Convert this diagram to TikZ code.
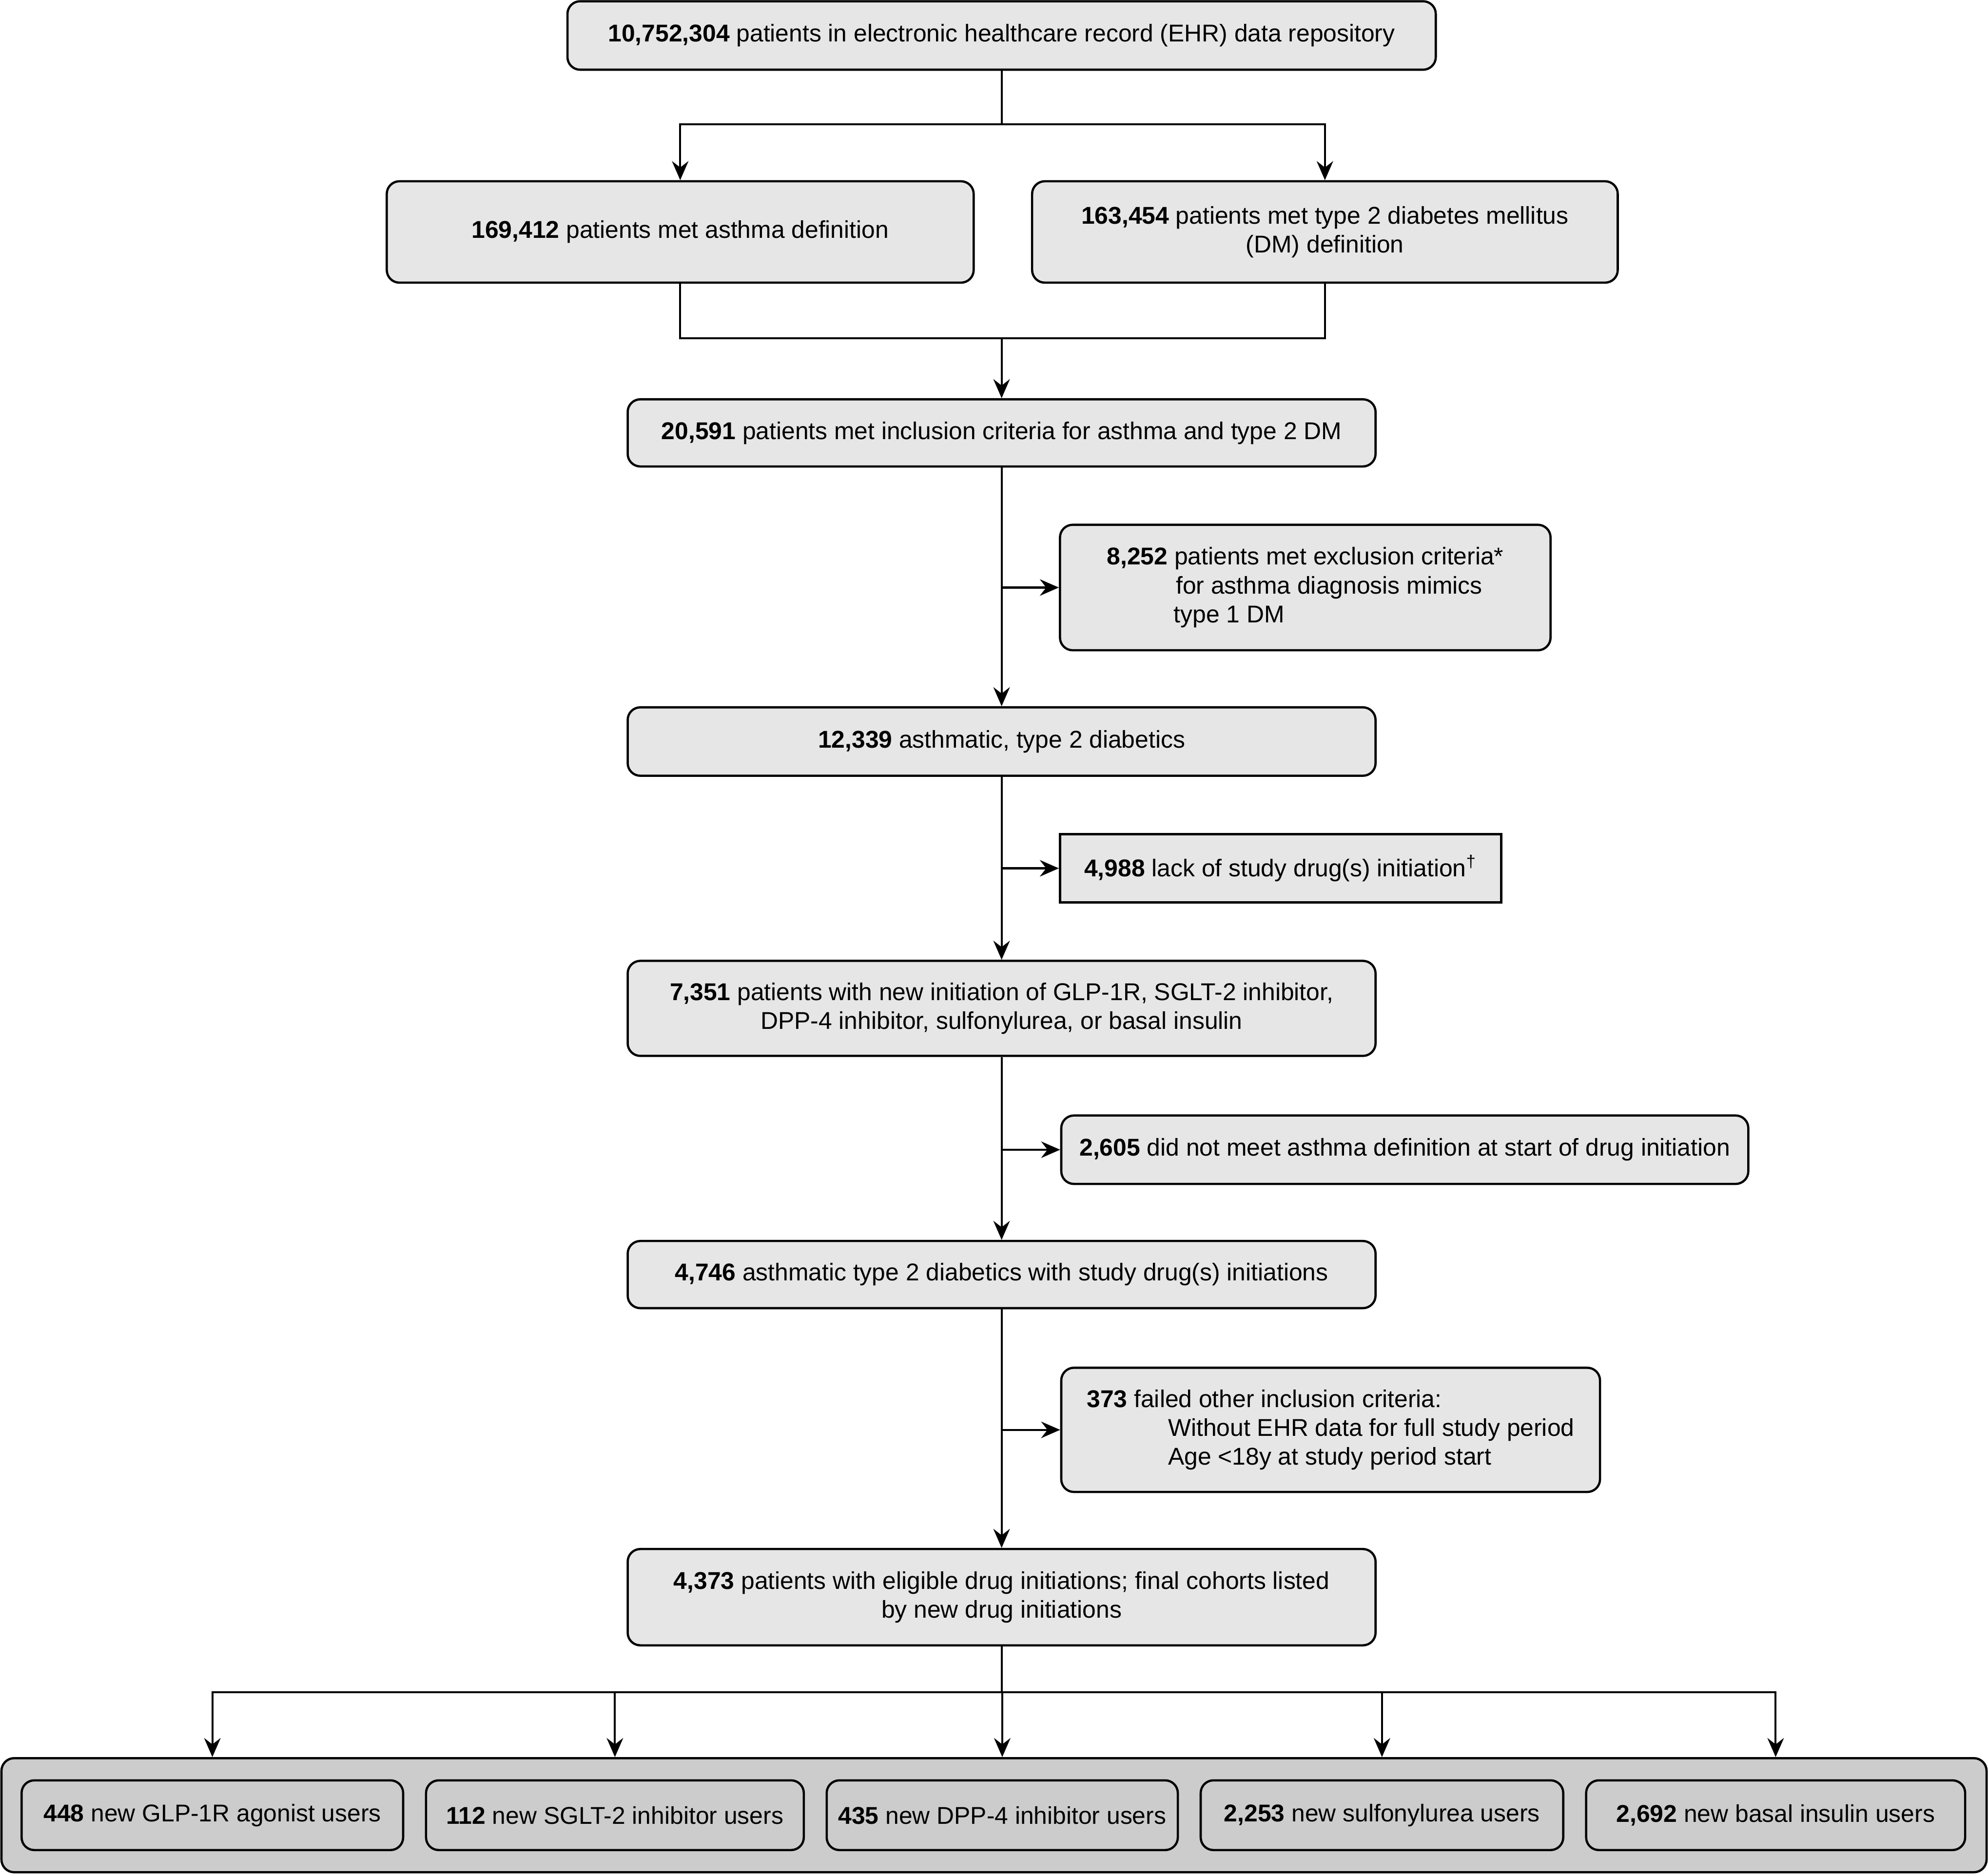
\documentclass[tikz,border=0pt]{standalone}
\usepackage{fontspec}
\setmainfont{Liberation Sans}
\usetikzlibrary{calc,arrows.meta}

\definecolor{boxgray}{HTML}{E6E6E6}
\definecolor{cohortgray}{HTML}{CCCCCC}

\tikzset{
  box/.style={draw, rounded corners=0.2cm, fill=boxgray, line width=1pt,
    align=center, inner sep=0pt, font=\fontsize{10.9}{13}\selectfont},
  sqbox/.style={box, rounded corners=0pt},
  cohort/.style={box, fill=cohortgray},
  link/.style={line width=0.9pt},
  arr/.style={link, -{Stealth[length=0.3cm,width=0.26cm,inset=0.1cm]}},
}

\begin{document}
\begin{tikzpicture}[x=0.02cm, y=-0.02cm]
  \useasboundingbox (0,0) rectangle (1568,1479);

  %% main column
  \node[box, minimum width=13.7cm, minimum height=1.08cm] (ehr) at (790,28)
    {\textbf{10,752,304} patients in electronic healthcare record (EHR) data repository};
  \node[box, minimum width=9.26cm, minimum height=1.6cm] (asthma) at (536.5,183)
    {\textbf{169,412} patients met asthma definition};
  \node[box, minimum width=9.24cm, minimum height=1.6cm] (dm) at (1045,183)
    {\textbf{163,454} patients met type 2 diabetes mellitus\\(DM) definition};
  \node[box, minimum width=11.8cm, minimum height=1.06cm] (incl) at (790,341.5)
    {\textbf{20,591} patients met inclusion criteria for asthma and type 2 DM};
  \node[box, minimum width=11.8cm, minimum height=1.08cm] (dx) at (790,585)
    {\textbf{12,339} asthmatic, type 2 diabetics};
  \node[box, minimum width=11.8cm, minimum height=1.5cm] (new) at (790,795.5)
    {\textbf{7,351} patients with new initiation of GLP-1R, SGLT-2 inhibitor,\\DPP-4 inhibitor, sulfonylurea, or basal insulin};
  \node[box, minimum width=11.8cm, minimum height=1.06cm] (drug) at (790,1005.5)
    {\textbf{4,746} asthmatic type 2 diabetics with study drug(s) initiations};
  \node[box, minimum width=11.8cm, minimum height=1.52cm] (final) at (790,1260)
    {\textbf{4,373} patients with eligible drug initiations; final cohorts listed\\by new drug initiations};

  %% side boxes (exclusions)
  \node[box, align=left, minimum width=7.74cm, minimum height=1.98cm] (excl) at (1029.5,463.5)
    {\textbf{8,252} patients met exclusion criteria*\\\hspace*{31pt}for asthma diagnosis mimics\\\hspace*{30pt}type 1 DM};
  \node[sqbox, minimum width=6.96cm, minimum height=1.08cm] (nodrug) at (1010,685)
    {\textbf{4,988} lack of study drug(s) initiation\textsuperscript{†}};
  \node[box, minimum width=10.84cm, minimum height=1.08cm] (noasth) at (1108,907)
    {\textbf{2,605} did not meet asthma definition at start of drug initiation};
  \node[box, align=left, minimum width=8.5cm, minimum height=1.96cm] (other) at (1049.5,1128)
    {\textbf{373} failed other inclusion criteria:\\\hspace*{36.5pt}Without EHR data for full study period\\\hspace*{36.5pt}Age <18y at study period start};

  %% cohorts
  \node[cohort, minimum width=31.32cm, minimum height=1.8cm] (all) at (784,1432) {};
  \node[cohort, minimum width=6.02cm, minimum height=1.1cm] (glp) at (167.5,1432)
    {\textbf{448} new GLP-1R agonist users};
  \node[cohort, minimum width=5.96cm, minimum height=1.1cm] (sglt) at (485,1432)
    {\textbf{112} new SGLT-2 inhibitor users};
  \node[cohort, minimum width=5.54cm, minimum height=1.1cm] (dpp) at (790.5,1432)
    {\textbf{435} new DPP-4 inhibitor users};
  \node[cohort, minimum width=5.72cm, minimum height=1.1cm] (sulf) at (1090,1432)
    {\textbf{2,253} new sulfonylurea users};
  \node[cohort, minimum width=5.98cm, minimum height=1.1cm] (ins) at (1400.5,1432)
    {\textbf{2,692} new basal insulin users};

  %% split and join at the top
  \coordinate (split) at (790,98);
  \coordinate (join) at (790,267);
  \draw[link] (ehr) -- (split);
  \draw[arr] (split) -| (asthma);
  \draw[arr] (split) -| (dm);
  \draw[link] (asthma) |- (join);
  \draw[link] (dm) |- (join);
  \draw[arr] (join) -- (incl);

  %% main flow with side exits
  \draw[arr] (incl) -- (dx);
  \draw[arr] (dx) -- (new);
  \draw[arr] (new) -- (drug);
  \draw[arr] (drug) -- (final);
  \draw[arr] (incl.south |- excl.west) -- (excl);
  \draw[arr] (dx.south |- nodrug.west) -- (nodrug);
  \draw[arr] (new.south |- noasth.west) -- (noasth);
  \draw[arr] (drug.south |- other.west) -- (other);

  %% fan out to the cohorts
  \coordinate (fan) at (790,1335);
  \draw[link] (final) -- (fan);
  \foreach \c in {glp,sglt,dpp,sulf,ins}
    \draw[arr] (fan) -| (\c.north |- all.north);
\end{tikzpicture}
\end{document}
